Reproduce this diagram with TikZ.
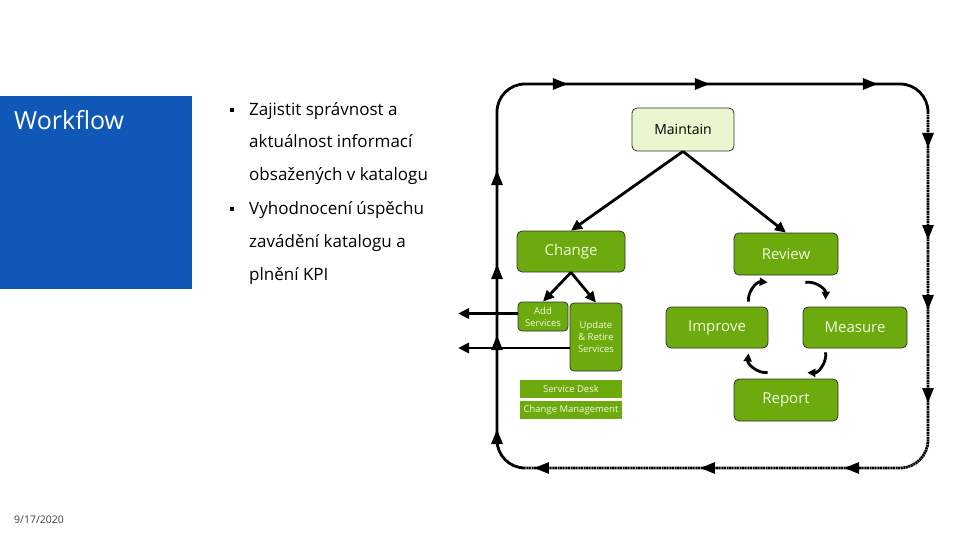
\documentclass[tikz,border=0pt]{standalone}
\usepackage{fontspec}
\setmainfont{Open Sans}
\usetikzlibrary{arrows.meta,decorations.markings,calc}
\definecolor{slideblue}{RGB}{16,88,184}
\definecolor{leaf}{RGB}{108,170,14}
\definecolor{leaflight}{RGB}{234,246,205}
\definecolor{leaftext}{RGB}{242,250,222}
\tikzset{looptip/.tip = {Triangle[length=15pt,width=11pt]}}

\begin{document}
\begin{tikzpicture}[x=1pt, y=-1pt,
  box/.style = {draw=black!80, line width=0.8pt, rounded corners=5pt, fill=leaf, text=leaftext, font=\fontsize{15}{18}\selectfont, minimum width=104pt, minimum height=42pt, inner sep=0pt},
  small/.style = {box, rounded corners=4pt, font=\fontsize{9.5}{12}\selectfont, align=center},
  bar/.style = {fill=leaf, text=leaftext, font=\fontsize{9.5}{10}\selectfont, minimum width=102pt, minimum height=18pt, inner sep=0pt},
  bul/.style = {fill=black, minimum size=4.5pt, inner sep=0pt},
  txt/.style = {anchor=base west, align=left, inner sep=0pt, font=\fontsize{17}{33}\selectfont},
  arr/.style = {line width=2.8pt, -{Triangle[length=11pt,width=10pt]}},
  cyc/.style = {line width=2.8pt, -{Triangle[length=8pt,width=8pt]}}]
  \useasboundingbox (0,0) rectangle (960,540);

  \node[fill=slideblue, minimum width=192pt, minimum height=193pt, inner sep=0pt, anchor=north west] (panel) at (0,96) {};
  \node[anchor=base west, inner sep=0pt, text=white, font=\fontsize{25}{28}\selectfont] (title) at (14,130) {Workflow};

  \node[bul] (d1) at (232,110) {};
  \node[txt] (b1) at (249,181) {Zajistit správnost a\\aktuálnost informací\\obsažených v katalogu};
  \node[bul] (d2) at (232,209) {};
  \node[txt] (b2) at (249,280) {Vyhodnocení úspěchu\\zavádění katalogu a\\plnění KPI};

  \node[anchor=base west, inner sep=0pt, text=black!75, font=\fontsize{10.5}{12}\selectfont] (date) at (14,523) {9/17/2020};

  \coordinate (tl) at (497,84);
  \coordinate (tr) at (928,84);
  \coordinate (br) at (928,468);
  \coordinate (bl) at (497,468);
  \coordinate (west) at (458,0);

  \draw[line width=2.8pt, rounded corners=28pt,
    postaction={decorate, decoration={markings,
      mark=at position 55pt with {\arrow{looptip}},
      mark=at position 149pt with {\arrow{looptip}},
      mark=at position 220pt with {\arrow{looptip}},
      mark=at position 314pt with {\arrow{looptip}},
      mark=at position 459pt with {\arrow{looptip}},
      mark=at position 601pt with {\arrow{looptip}},
      mark=at position 769pt with {\arrow{looptip}}}}]
    ($(bl)+(28,0)$) -- (bl) -- (tl) -- (tr) -- ($(tr)+(0,28)$);
  \draw[line width=2.8pt, rounded corners=28pt, dash pattern=on 2pt off 0.6pt,
    postaction={decorate, solid, decoration={markings,
      mark=at position 36pt with {\arrow{looptip}},
      mark=at position 128pt with {\arrow{looptip}},
      mark=at position 198pt with {\arrow{looptip}},
      mark=at position 291pt with {\arrow{looptip}},
      mark=at position 428pt with {\arrow{looptip}},
      mark=at position 572pt with {\arrow{looptip}},
      mark=at position 738pt with {\arrow{looptip}}}}]
    ($(tr)+(0,28)$) -- (br) -- ($(bl)+(28,0)$);

  \node[box, fill=leaflight, text=black, font=\fontsize{14}{17}\selectfont, minimum width=102pt, minimum height=43pt] (maintain) at (683,129.5) {Maintain};
  \node[box, minimum width=108pt, minimum height=41pt] (change) at (571,251.5) {Change};
  \node[box] (review) at (786,254) {Review};
  \node[box, minimum width=102pt, minimum height=41pt] (improve) at (717,327.5) {Improve};
  \node[box, minimum height=41pt] (measure) at (855,327.5) {Measure};
  \node[box] (report) at (786,400) {Report};
  \node[small, minimum width=50pt, minimum height=29pt] (add) at (543,316.5) {Add\\Services};
  \node[small, minimum width=52pt, minimum height=68pt] (update) at (596,337) {Update\\\& Retire\\Services};
  \node[bar] (desk) at (571,388.5) {Service Desk};
  \node[bar] (cm) at (571,410) {Change Management};

  \draw[arr] (maintain.south) -- (change.north);
  \draw[arr] (maintain.south) -- (review.north);
  \draw[arr] (change.south) -- (add.north);
  \draw[arr] (change.south) -- (update.north);
  \draw[arr] ([yshift=3pt]add.west) -- ([yshift=3pt]add.west -| west);
  \draw[arr] ([yshift=-11pt]update.west) -- ([yshift=-11pt]update.west -| west);

  \draw[cyc] ([xshift=-20pt,yshift=5pt]improve.north east) to[bend left=50] ([xshift=34pt,yshift=-7pt]review.south west);
  \draw[cyc] ([xshift=-33pt,yshift=-7pt]review.south east) to[bend left=50] ([xshift=23pt,yshift=7pt]measure.north west);
  \draw[cyc] ([xshift=23pt,yshift=-4pt]measure.south west) to[bend left=50] ([xshift=-31pt,yshift=6pt]report.north east);
  \draw[cyc] ([xshift=34pt,yshift=6pt]report.north west) to[bend left=50] ([xshift=-20pt,yshift=-5pt]improve.south east);
\end{tikzpicture}
\end{document}
